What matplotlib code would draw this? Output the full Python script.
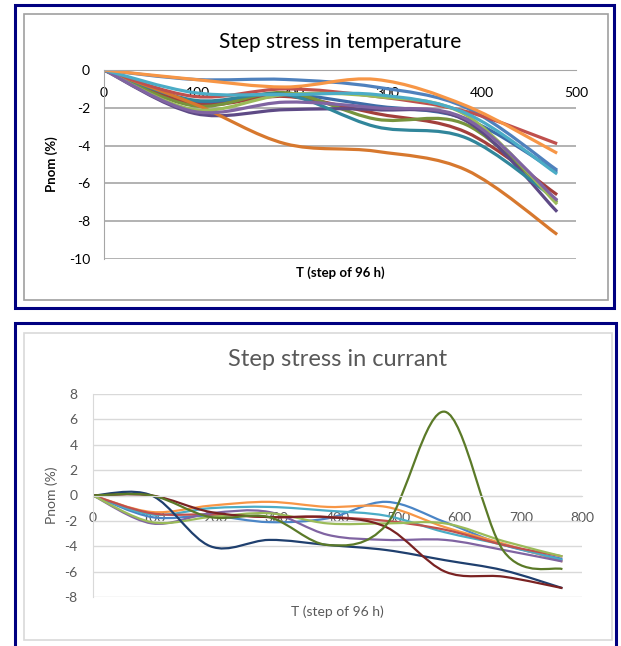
import numpy as np
import matplotlib.pyplot as plt
from matplotlib.path import Path
from matplotlib.patches import PathPatch, Rectangle

plt.rcParams['font.family'] = ['Lato', 'DejaVu Sans']
plt.rcParams['axes.unicode_minus'] = False

# ---- top chart: step stress in temperature ----
t_temp = [0, 96, 192, 288, 384, 480]
temp_blue = [0, -0.5, -0.5, -0.9, -2.0, -5.3]
temp_red = [0, -1.4, -1.0, -1.4, -2.2, -3.9]
temp_green = [0, -2.1, -1.3, -1.4, -2.4, -7.1]
temp_purple = [0, -2.2, -1.7, -2.0, -2.6, -6.9]
temp_aqua = [0, -1.2, -1.3, -1.3, -2.3, -5.5]
temp_dblue = [0, -1.7, -1.3, -1.9, -2.6, -5.4]
temp_dred = [0, -1.8, -1.4, -2.3, -3.3, -6.6]
temp_olive = [0, -1.9, -1.2, -2.6, -2.9, -7.0]
temp_dpurple = [0, -2.3, -2.1, -2.1, -2.7, -7.5]
temp_teal = [0, -1.6, -1.3, -3.0, -3.6, -6.9]
temp_dorange = [0, -1.8, -3.9, -4.3, -5.3, -8.7]
temp_orange = [0, -0.5, -0.9, -0.5, -1.9, -4.4]

temp_series = [temp_dblue, temp_dred, temp_olive, temp_dpurple, temp_teal, temp_dorange,
               temp_blue, temp_red, temp_green, temp_purple, temp_aqua, temp_orange]
temp_colors = ['#3D6CA8', '#A33F3C', '#77933C', '#5E4A86', '#31869B', '#D7782E',
               '#4F81BD', '#C0504D', '#9BBB59', '#8064A2', '#4BACC6', '#F79646']

# ---- bottom chart: step stress in currant ----
t_cur = [0, 96, 192, 288, 384, 480, 576, 672, 768]
cur_blue = [0, -1.7, -1.6, -2.1, -1.8, -0.5, -2.1, -3.9, -5.0]
cur_orange = [0, -1.3, -0.8, -0.5, -0.9, -0.9, -2.5, -3.8, -5.2]
cur_aqua = [0, -1.5, -1.0, -0.9, -1.2, -1.6, -2.9, -3.9, -5.1]
cur_red = [0, -1.4, -1.5, -1.7, -1.7, -2.0, -2.7, -3.9, -4.8]
cur_purple = [0, -2.2, -1.4, -1.3, -3.1, -3.5, -3.5, -4.3, -5.2]
cur_green = [0, -2.1, -1.7, -1.4, -2.2, -2.2, -2.2, -3.6, -4.8]
cur_navy = [0, 0, -4.0, -3.5, -3.9, -4.3, -5.1, -5.9, -7.3]
cur_maroon = [0, 0, -1.3, -1.7, -1.7, -2.5, -6.0, -6.4, -7.3]
cur_olive = [0, 0, -1.7, -1.7, -3.9, -2.3, 6.6, -4.4, -5.8]

cur_series = [cur_blue, cur_orange, cur_aqua, cur_red, cur_purple, cur_green,
              cur_navy, cur_maroon, cur_olive]
cur_colors = ['#4A85C6', '#F79646', '#4BACC6', '#C0504D', '#8064A2', '#9BBB59',
              '#1F3F6E', '#7A2222', '#5B7A28']


def smooth_path(x, y):
    # excel-like smoothed line (bezier through the points)
    pts = np.column_stack([x, y]).astype(float)
    n = len(pts)
    verts = [pts[0]]
    codes = [Path.MOVETO]
    for i in range(n - 1):
        p0 = pts[max(i - 1, 0)]
        p1 = pts[i]
        p2 = pts[i + 1]
        p3 = pts[min(i + 2, n - 1)]
        verts += [p1 + (p2 - p0) / 6, p2 - (p3 - p1) / 6, p2]
        codes += [Path.CURVE4] * 3
    return Path(verts, codes)


W, H = 621, 646
fig = plt.figure(figsize=(W / 100, H / 100), dpi=100)


def box(x0, y0, x1, y1, color, lw):
    fig.patches.append(Rectangle((x0 / W, 1 - y1 / H), (x1 - x0) / W, (y1 - y0) / H,
                                 transform=fig.transFigure, fill=False,
                                 edgecolor=color, linewidth=lw))


box(15, 5, 614, 308, '#000080', 2.2)
box(24, 14, 608, 300, '#A0A0A0', 1.2)
box(15, 323, 616, 648, '#000080', 2.2)
box(24, 333, 612, 640, '#D9D9D9', 1.2)

# top axes
ax1 = fig.add_axes([104 / W, 1 - 259 / H, 472 / W, 189 / H])
for s, c in zip(temp_series, temp_colors):
    ax1.add_patch(PathPatch(smooth_path(t_temp, s), fill=False, edgecolor=c, lw=2.3))
ax1.set_xlim(0, 500)
ax1.set_ylim(-10, 0)
ax1.set_xticks(range(0, 501, 100))
ax1.set_yticks(range(-10, 1, 2))
ax1.grid(axis='y', color='#A6A6A6', lw=1.2)
ax1.set_axisbelow(True)
for sp in ['top', 'right']:
    ax1.spines[sp].set_visible(False)
ax1.spines['bottom'].set_position(('data', 0))
ax1.spines['bottom'].set_color('#A6A6A6')
ax1.spines['left'].set_color('#A6A6A6')
ax1.tick_params(length=0, labelsize=10, colors='black')
ax1.tick_params(axis='x', pad=12)
ax1.tick_params(axis='y', pad=10)
ax1.set_title('Step stress in temperature', fontsize=15, pad=16)
ax1.set_ylabel('Pnom (%)', fontsize=9.5, fontweight='bold')
ax1.yaxis.set_label_coords(-0.097, 0.5)
ax1.text(0.5, -0.07, 'T (step of 96 h)', transform=ax1.transAxes, ha='center',
         va='center', fontsize=9.5, fontweight='bold')

# bottom axes
ax2 = fig.add_axes([93 / W, 1 - 597 / H, 489 / W, 203 / H])
for s, c in zip(cur_series, cur_colors):
    ax2.add_patch(PathPatch(smooth_path(t_cur, s), fill=False, edgecolor=c, lw=1.6))
ax2.set_xlim(0, 800)
ax2.set_ylim(-8, 8)
ax2.set_xticks(range(0, 801, 100))
ax2.set_yticks(range(-8, 9, 2))
ax2.grid(axis='y', color='#D9D9D9', lw=1.0)
ax2.set_axisbelow(True)
for sp in ['top', 'right']:
    ax2.spines[sp].set_visible(False)
ax2.spines['bottom'].set_position(('data', 0))
ax2.spines['bottom'].set_color('#D9D9D9')
ax2.spines['left'].set_color('#D9D9D9')
ax2.tick_params(length=0, labelsize=10, colors='#595959')
ax2.tick_params(axis='x', pad=12)
ax2.tick_params(axis='y', pad=11)
ax2.set_title('Step stress in currant', fontsize=17, color='#595959', pad=20)
ax2.set_ylabel('Pnom (%)', fontsize=10, color='#595959')
ax2.yaxis.set_label_coords(-0.072, 0.5)
ax2.text(0.5, -0.075, 'T (step of 96 h)', transform=ax2.transAxes, ha='center',
         va='center', fontsize=10, color='#595959')

fig.savefig('out.png', dpi=100)
